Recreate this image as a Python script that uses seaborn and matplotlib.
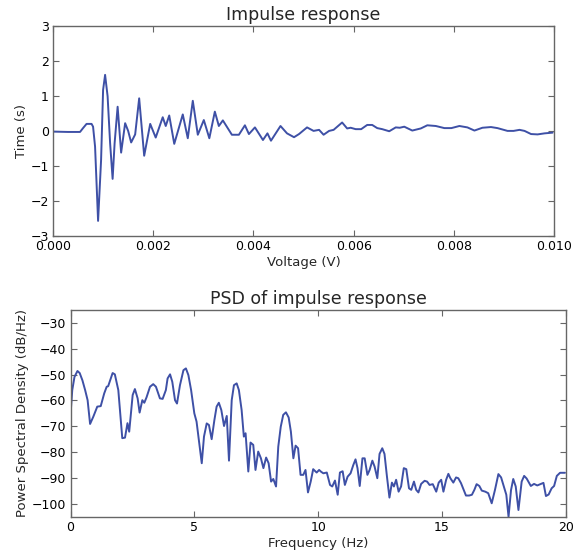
import pandas as pd
import seaborn as sns
import matplotlib.pyplot as plt

# impulse response
time_s = [0.0, 0.0003, 0.00054, 0.0006, 0.00067, 0.00077, 0.0008, 0.00084,
          0.0009, 0.00096, 0.001, 0.00104, 0.00109, 0.00114, 0.00119, 0.00123,
          0.00129, 0.00136, 0.00144, 0.0015, 0.00156, 0.00164, 0.00172, 0.00182,
          0.00194, 0.00205, 0.00219, 0.00225, 0.00232, 0.00242, 0.00259, 0.00269,
          0.00279, 0.00289, 0.00301, 0.00312, 0.00323, 0.00331, 0.00339, 0.00357,
          0.00371, 0.00383, 0.00391, 0.00403, 0.00419, 0.00428, 0.00435, 0.00454,
          0.00467, 0.00481, 0.00491, 0.00507, 0.0052, 0.00531, 0.0054, 0.00551,
          0.0056, 0.00577, 0.00587, 0.00594, 0.00604, 0.00615, 0.00627, 0.00637,
          0.00647, 0.00657, 0.00671, 0.00684, 0.00692, 0.00701, 0.00717, 0.00734,
          0.00747, 0.00764, 0.00781, 0.00795, 0.00811, 0.00827, 0.00841, 0.00857,
          0.00874, 0.00887, 0.00907, 0.00919, 0.00931, 0.00941, 0.00954, 0.00967,
          0.00981, 0.00997]
amplitude = [-0.02, -0.03, -0.03, 0.08, 0.2, 0.2, 0.12, -0.45,
             -2.57, -0.83, 1.17, 1.6, 0.99, -0.35, -1.37, -0.35,
             0.69, -0.62, 0.22, 0.0, -0.33, -0.1, 0.93, -0.71,
             0.2, -0.19, 0.39, 0.14, 0.44, -0.37, 0.47, -0.21,
             0.86, -0.11, 0.31, -0.21, 0.55, 0.14, 0.3, -0.11,
             -0.11, 0.16, -0.09, 0.1, -0.26, -0.07, -0.28, 0.14,
             -0.07, -0.18, -0.09, 0.1, 0.0, 0.03, -0.11, 0.0,
             0.03, 0.24, 0.07, 0.09, 0.05, 0.05, 0.17, 0.17,
             0.08, 0.05, -0.01, 0.1, 0.09, 0.12, 0.01, 0.07,
             0.16, 0.14, 0.08, 0.08, 0.14, 0.1, 0.01, 0.09,
             0.11, 0.08, 0.0, 0.0, 0.03, 0.0, -0.09, -0.1,
             -0.07, -0.05]

# power spectral density
freq_hz = [0.0, 0.07, 0.16, 0.28, 0.37, 0.48, 0.59, 0.69, 0.79, 0.92,
           1.08, 1.22, 1.36, 1.46, 1.52, 1.7, 1.79, 1.93, 2.09, 2.2,
           2.3, 2.37, 2.51, 2.6, 2.71, 2.79, 2.9, 2.98, 3.07, 3.21,
           3.34, 3.45, 3.61, 3.72, 3.85, 3.92, 4.02, 4.11, 4.22, 4.3,
           4.42, 4.56, 4.66, 4.76, 4.87, 5.0, 5.09, 5.2, 5.3, 5.39,
           5.5, 5.59, 5.7, 5.81, 5.9, 5.99, 6.09, 6.2, 6.31, 6.4,
           6.51, 6.6, 6.71, 6.8, 6.91, 7.0, 7.07, 7.18, 7.27, 7.38,
           7.47, 7.58, 7.69, 7.79, 7.9, 8.0, 8.1, 8.19, 8.3, 8.39,
           8.49, 8.59, 8.7, 8.81, 8.9, 9.0, 9.09, 9.19, 9.29, 9.4,
           9.49, 9.59, 9.7, 9.8, 9.94, 10.04, 10.12, 10.21, 10.35, 10.48,
           10.57, 10.68, 10.79, 10.88, 10.99, 11.08, 11.19, 11.31, 11.42, 11.51,
           11.59, 11.68, 11.79, 11.88, 11.99, 12.08, 12.19, 12.28, 12.39, 12.48,
           12.59, 12.68, 12.78, 12.88, 12.98, 13.06, 13.15, 13.25, 13.35, 13.46,
           13.56, 13.67, 13.76, 13.87, 13.96, 14.05, 14.16, 14.3, 14.4, 14.5,
           14.63, 14.77, 14.87, 14.97, 15.06, 15.17, 15.26, 15.34, 15.46, 15.57,
           15.66, 15.77, 15.88, 15.97, 16.1, 16.21, 16.31, 16.4, 16.51, 16.61,
           16.75, 16.87, 17.01, 17.14, 17.28, 17.39, 17.51, 17.6, 17.69, 17.79,
           17.88, 17.98, 18.09, 18.22, 18.32, 18.42, 18.59, 18.72, 18.85, 18.98,
           19.1, 19.2, 19.31, 19.43, 19.53, 19.64, 19.77, 19.9, 19.97]
psd_db = [-65.6, -56.0, -50.9, -48.6, -49.4, -52.2, -56.0, -59.9, -69.1, -66.3,
          -62.4, -62.2, -57.3, -54.7, -54.5, -49.4, -49.9, -56.0, -74.6, -74.4,
          -68.8, -72.1, -57.9, -55.6, -59.2, -64.7, -59.9, -60.9, -58.8, -54.7,
          -53.7, -54.7, -59.2, -59.4, -56.0, -51.5, -49.9, -52.8, -59.9, -61.2,
          -54.1, -48.3, -47.6, -50.2, -56.0, -65.0, -68.2, -76.6, -84.3, -74.0,
          -68.9, -69.5, -75.0, -67.6, -62.4, -60.9, -63.7, -69.9, -66.0, -83.3,
          -59.9, -54.1, -53.4, -56.0, -63.7, -74.0, -72.7, -87.5, -76.3, -77.2,
          -86.9, -79.8, -82.4, -86.2, -82.1, -84.3, -91.4, -90.4, -93.3, -77.9,
          -70.2, -65.6, -64.6, -66.6, -72.1, -82.4, -77.5, -78.5, -88.8, -88.8,
          -86.9, -95.6, -91.4, -86.6, -87.9, -86.9, -87.6, -88.2, -87.9, -92.7,
          -93.3, -91.0, -96.5, -87.9, -87.4, -92.7, -89.5, -88.2, -85.0, -82.8,
          -86.2, -93.1, -82.4, -82.4, -88.8, -86.9, -83.3, -85.6, -90.1, -80.7,
          -78.5, -80.7, -89.5, -97.6, -91.8, -93.3, -90.7, -95.3, -93.3, -86.2,
          -86.6, -94.0, -94.6, -91.4, -94.6, -95.6, -92.3, -91.1, -91.4, -92.7,
          -92.4, -95.3, -91.8, -90.7, -95.3, -90.7, -88.4, -90.1, -91.8, -89.8,
          -90.1, -92.0, -94.6, -96.8, -96.8, -96.5, -94.6, -92.4, -93.1, -94.9,
          -95.3, -95.9, -99.8, -94.7, -88.5, -89.8, -93.6, -96.5, -105.0, -94.7,
          -90.4, -93.3, -102.4, -91.4, -89.2, -90.2, -93.1, -92.3, -92.9, -92.4,
          -91.9, -97.0, -96.4, -94.0, -93.1, -89.2, -88.0, -88.0, -88.0]

impulse = pd.DataFrame({"t": time_s, "y": amplitude})
psd = pd.DataFrame({"f": freq_hz, "p": psd_db})

sns.set_style("white", {
    "axes.edgecolor": "#666666",
    "xtick.direction": "in",
    "ytick.direction": "in",
    "xtick.top": True,
    "ytick.right": True,
    "xtick.bottom": True,
    "ytick.left": True,
})
plt.rcParams["font.family"] = ["DejaVu Sans"]
plt.rcParams["xtick.color"] = "#666666"
plt.rcParams["ytick.color"] = "#666666"
plt.rcParams["xtick.labelcolor"] = "black"
plt.rcParams["ytick.labelcolor"] = "black"
plt.rcParams["xtick.major.size"] = 4
plt.rcParams["ytick.major.size"] = 4

line_color = "#3e50a6"

fig = plt.figure(figsize=(5.79, 5.5), dpi=100)
ax1 = fig.add_axes([0.0915, 0.571, 0.8655, 0.382])
ax2 = fig.add_axes([0.1218, 0.0605, 0.8553, 0.3759])

# top panel
sns.lineplot(data=impulse, x="t", y="y", ax=ax1, color=line_color, linewidth=1.4, sort=False)
ax1.set_xlim(0, 0.01)
ax1.set_ylim(-3, 3)
ax1.set_xticks([0.0, 0.002, 0.004, 0.006, 0.008, 0.010])
ax1.set_xticklabels(["0.000", "0.002", "0.004", "0.006", "0.008", "0.010"])
ax1.set_title("Impulse response", fontsize=12.5, pad=4)
ax1.set_xlabel("Voltage (V)", fontsize=9.5, labelpad=2)
ax1.set_ylabel("Time (s)", fontsize=9.5, labelpad=2)

# bottom panel
sns.lineplot(data=psd, x="f", y="p", ax=ax2, color=line_color, linewidth=1.4, sort=False)
ax2.set_xlim(0, 20)
ax2.set_ylim(-105, -25)
ax2.set_xticks([0, 5, 10, 15, 20])
ax2.set_xticklabels(["0", "5", "10", "15", "20"])
ax2.set_yticks(range(-100, -25, 10))
ax2.set_title("PSD of impulse response", fontsize=12.5, pad=4)
ax2.set_xlabel("Frequency (Hz)", fontsize=9.5, labelpad=2)
ax2.set_ylabel("Power Spectral Density (dB/Hz)", fontsize=9.5, labelpad=2)

for ax in (ax1, ax2):
    ax.tick_params(labelsize=9, pad=3)
    for s in ax.spines.values():
        s.set_linewidth(1.0)

plt.savefig("out.png", dpi=100)
